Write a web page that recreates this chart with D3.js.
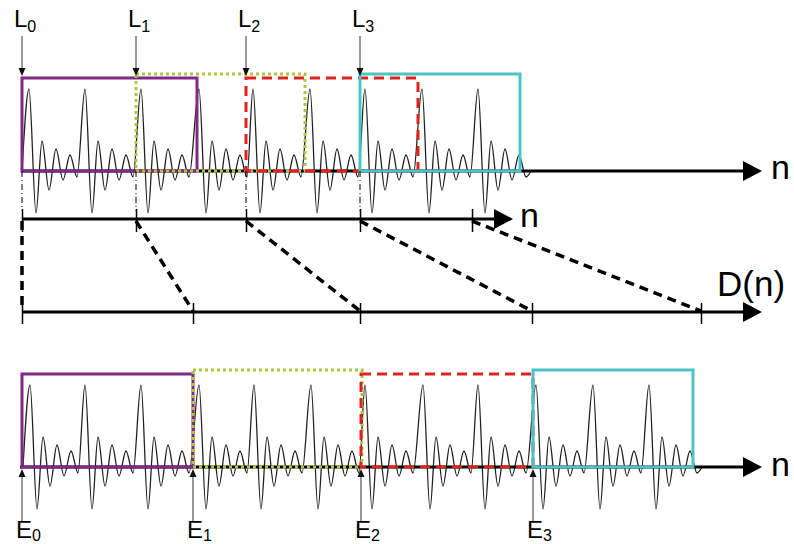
<!DOCTYPE html>
<html><head><meta charset="utf-8">
<script src="https://cdn.jsdelivr.net/npm/d3@7"></script>
<style>body{margin:0;background:#fff}svg{display:block}</style>
</head><body>
<svg id="c" width="794" height="544"></svg>
<script>
// ---------------- data ----------------
// one pitch period of the waveform: extrema offsets (samples) and amplitudes
const pulseOffsets = [0, 7, 13, 20, 27, 34, 41, 48];
const pulseAmps    = [82, -42, 30, -19, 22, -9, 16, -6];
// pitch-peak positions of the original (top) and modified (bottom) signals
const topPeaks    = [7, 63, 119, 177, 231, 288, 343, 400, 456];
const bottomPeaks = [8, 63, 119, 177, 232, 289, 343, 401, 456, 514, 571, 627];
// analysis marks L_k and synthesis marks E_k
const analysisMarks  = [0, 114, 224, 338];
const analysisEnds   = [175, 283, 396, 498];
const synthMarks     = [0, 171, 339, 511];
const synthEnds      = [171, 340, 511, 671];
const markLabels     = ["0", "1", "2", "3"];
const windowHeights  = [93, 97, 93, 97];
// time-warping ticks: n axis -> D(n) axis
const warpSrc = [0, 114, 224, 338, 450];
const warpDst = [0, 171, 338, 510, 679];

// ---------------- styles ----------------
const winColors = ["#7e2a86", "#a9c93b", "#e3201c", "#4bc3c8"];
const winDash   = [null, "3,3", "10,6", null];
const FONT = "'Liberation Sans', Arial, sans-serif";

const svg = d3.select("#c");
const x = d3.scaleLinear().domain([0, 740]).range([22, 762]);
const yTop = d3.scaleLinear().domain([0, 100]).range([171, 71]);
const yBot = d3.scaleLinear().domain([0, 100]).range([467, 367]);
const Y2 = 219, Y3 = 312;

function buildSignal(peaks) {
  const pts = [[peaks[0] - 7, 0]];
  peaks.forEach(p => pulseOffsets.forEach((o, i) => pts.push([p + o, pulseAmps[i]])));
  pts.push([peaks[peaks.length - 1] + 53, 0]);
  return pts;
}
function drawSignal(peaks, y) {
  const line = d3.line().x(d => x(d[0])).y(d => y(d[1])).curve(d3.curveMonotoneX);
  svg.append("path").attr("d", line(buildSignal(peaks)))
    .attr("fill", "none").attr("stroke", "#222").attr("stroke-width", 1.3);
}
function axisArrow(x0, x1, y, w) {
  svg.append("line").attr("x1", x0).attr("x2", x1 - 12).attr("y1", y).attr("y2", y)
    .attr("stroke", "#000").attr("stroke-width", w);
  svg.append("path").attr("d", `M${x1},${y}L${x1 - 19},${y - 10}L${x1 - 19},${y + 10}Z`).attr("fill", "#000");
}
function bigLabel(txt, xx, yy, size) {
  svg.append("text").attr("x", xx).attr("y", yy).attr("font-family", FONT)
    .attr("font-size", size).attr("fill", "#000").text(txt);
}
function subLabel(letter, sub, xx, yy, dy) {
  const t = svg.append("text").attr("x", xx).attr("y", yy).attr("font-family", FONT)
    .attr("font-size", 24).attr("fill", "#000");
  t.append("tspan").text(letter);
  t.append("tspan").attr("font-size", 16).attr("dy", dy).text(sub);
}
function windows(starts, ends, y) {
  starts.forEach((s, i) => {
    const r = svg.append("rect")
      .attr("x", x(s)).attr("y", y(windowHeights[i]))
      .attr("width", x(ends[i]) - x(s)).attr("height", y(0) - y(windowHeights[i]))
      .attr("fill", "none").attr("stroke", winColors[i]).attr("stroke-width", 3);
    if (winDash[i]) r.attr("stroke-dasharray", winDash[i]);
  });
}

// ---------- top: original signal ----------
drawSignal(topPeaks, yTop);
axisArrow(x(0), x(740), yTop(0), 3.2);
windows(analysisMarks, analysisEnds, yTop);
bigLabel("n", 771, 179, 34);

// L arrows + labels
analysisMarks.forEach((m, i) => {
  svg.append("line").attr("x1", x(m)).attr("x2", x(m)).attr("y1", 36).attr("y2", 70)
    .attr("stroke", "#333").attr("stroke-width", 1);
  svg.append("path").attr("d", `M${x(m)},76L${x(m) - 3.5},68L${x(m) + 3.5},68Z`).attr("fill", "#111");
  subLabel("L", markLabels[i], x(m) - 8, 27, 5);
  // dash-dot projection down to the second axis
  svg.append("line").attr("x1", x(m)).attr("x2", x(m)).attr("y1", yTop(0)).attr("y2", Y2 - 8)
    .attr("stroke", "#000").attr("stroke-width", 1).attr("stroke-dasharray", "6,3,1,3");
});

// ---------- second axis (n) ----------
axisArrow(x(0), x(491), Y2, 3.2);
const g2 = svg.append("g").attr("transform", `translate(0,${Y2})`)
  .call(d3.axisBottom(x).tickValues(warpSrc).tickSize(13).tickFormat(""));
g2.select(".domain").remove();
g2.selectAll(".tick line").attr("y1", -10).attr("stroke", "#000").attr("stroke-width", 1.5);
bigLabel("n", 520, 227, 34);

// ---------- third axis D(n) ----------
axisArrow(x(0), x(740), Y3, 3.2);
const g3 = svg.append("g").attr("transform", `translate(0,${Y3})`)
  .call(d3.axisBottom(x).tickValues(warpDst).tickSize(12).tickFormat(""));
g3.select(".domain").remove();
g3.selectAll(".tick line").attr("y1", -9).attr("stroke", "#000").attr("stroke-width", 1.5);
bigLabel("D(n)", 717, 296, 35);

// warp connectors
warpSrc.forEach((s, i) => {
  svg.append("line").attr("x1", x(s)).attr("y1", Y2 + 2).attr("x2", x(warpDst[i])).attr("y2", Y3 - 1)
    .attr("stroke", "#000").attr("stroke-width", 3.5).attr("stroke-dasharray", "9,6");
});

// ---------- bottom: modified signal ----------
drawSignal(bottomPeaks, yBot);
axisArrow(x(-2), x(740), yBot(0), 3.2);
windows(synthMarks, synthEnds, yBot);
bigLabel("n", 771, 476, 34);

synthMarks.forEach((m, i) => {
  svg.append("line").attr("x1", x(m)).attr("x2", x(m)).attr("y1", 522).attr("y2", 476)
    .attr("stroke", "#333").attr("stroke-width", 1);
  svg.append("path").attr("d", `M${x(m)},469L${x(m) - 3.5},477L${x(m) + 3.5},477Z`).attr("fill", "#111");
  subLabel("E", markLabels[i], x(m) - 6, 538, 3);
});
</script>
</body></html>
